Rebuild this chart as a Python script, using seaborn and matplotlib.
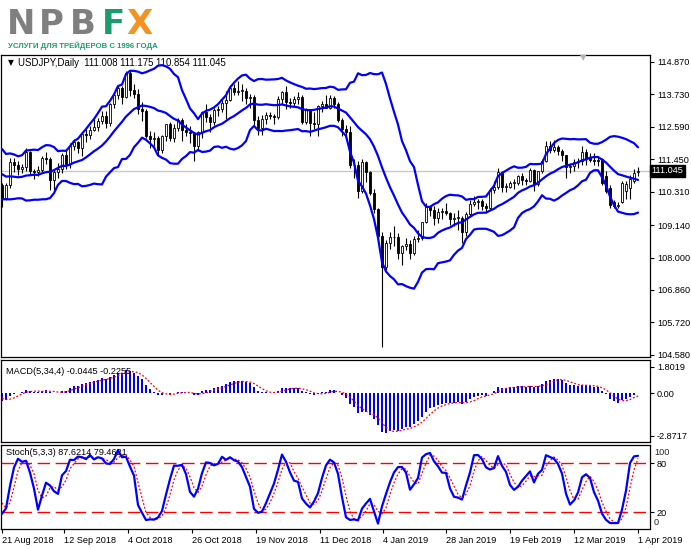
import numpy as np
import pandas as pd
import matplotlib
matplotlib.use("Agg")
import matplotlib.pyplot as plt
import seaborn as sns

sns.set_theme(style="white")
plt.rcParams['font.family'] = ['Liberation Sans', 'DejaVu Sans']

# ---------------- data ----------------
# warm-up history (25 Jun - 20 Aug 2018), not drawn, only feeds the indicators
hist_close = [109.68, 110.05, 110.24, 110.46, 110.76, 110.88, 110.46, 110.49, 110.63, 110.47,
              110.85, 111.00, 112.01, 112.52, 112.37, 112.31, 112.89, 112.87, 112.47, 111.41,
              111.35, 111.20, 110.97, 111.24, 111.05, 111.04, 111.85, 111.70, 111.69, 111.26,
              111.39, 111.38, 110.98, 111.08, 110.87, 110.73, 111.16, 110.70, 110.91, 110.50,
              110.20]
hist_high_last8 = [111.50, 111.15, 111.10, 110.95, 111.25, 111.45, 111.05, 110.95]
hist_low_last8 = [110.90, 110.75, 110.60, 110.11, 110.65, 110.45, 110.60, 110.45]

opens = [110.55, 110.07, 110.53, 111.34, 111.24, 111.10, 111.19, 111.71, 111.03, 111.00,
         111.06, 111.49, 111.46, 110.71, 110.99, 111.11, 111.61, 111.27, 111.92, 112.06,
         111.85, 112.33, 112.30, 112.49, 112.59, 112.80, 112.98, 112.71, 113.39, 113.69,
         113.94, 113.62, 114.48, 113.89, 113.72, 113.22, 113.15, 112.25, 112.15, 112.21,
         111.76, 112.25, 112.67, 112.20, 112.54, 112.83, 112.46, 112.42, 112.38, 111.90,
         112.39, 113.10, 112.92, 112.74, 113.19, 113.20, 113.43, 113.54, 113.96, 113.82,
         113.84, 113.85, 113.61, 113.62, 112.82, 112.54, 112.87, 113.00, 112.96, 112.94,
         113.55, 113.79, 113.46, 113.42, 113.56, 113.62, 112.76, 113.19, 112.71, 112.68,
         113.32, 113.37, 113.26, 113.61, 113.39, 112.82, 112.51, 112.40, 111.25, 111.23,
         110.34, 111.36, 110.99, 110.26, 109.69, 108.75, 107.68, 108.52, 108.71, 108.73,
         108.15, 108.41, 108.48, 108.17, 108.65, 108.68, 109.24, 109.77, 109.65, 109.37,
         109.61, 109.64, 109.55, 109.36, 109.38, 109.40, 108.88, 109.51, 109.88, 109.96,
         109.97, 109.80, 109.73, 110.38, 110.47, 111.01, 110.47, 110.49, 110.61, 110.63,
         110.86, 110.71, 110.68, 111.07, 110.58, 111.02, 111.38, 111.90, 111.77, 111.89,
         111.75, 111.59, 111.17, 111.20, 111.34, 111.39, 111.70, 111.48, 111.41, 111.39,
         111.45, 110.85, 110.45, 109.95, 109.82, 109.95, 110.32, 110.45, 110.70, 111.008]
highs = [110.60, 110.60, 111.48, 111.48, 111.40, 111.29, 111.83, 111.74, 111.12, 111.20,
         111.55, 111.70, 111.52, 111.08, 111.30, 111.65, 111.80, 112.00, 112.17, 112.10,
         112.40, 112.50, 112.60, 112.86, 112.90, 113.15, 113.15, 113.43, 113.70, 114.05,
         114.00, 114.55, 114.55, 114.10, 113.90, 113.45, 113.20, 112.45, 112.40, 112.25,
         112.30, 112.70, 112.75, 112.70, 112.90, 112.90, 112.70, 112.60, 112.40, 112.45,
         113.15, 113.38, 113.05, 113.25, 113.30, 113.55, 113.85, 114.05, 114.10, 114.20,
         114.10, 113.95, 113.75, 113.70, 112.95, 113.00, 113.10, 113.10, 113.05, 113.65,
         113.85, 114.00, 113.60, 113.65, 113.80, 113.70, 113.25, 113.20, 113.10, 113.35,
         113.50, 113.70, 113.70, 113.65, 113.45, 112.90, 112.65, 112.60, 111.45, 111.40,
         111.45, 111.40, 111.05, 110.40, 109.75, 108.90, 108.60, 108.88, 109.10, 108.85,
         108.45, 108.70, 108.60, 108.75, 108.95, 109.25, 109.90, 109.85, 109.80, 109.75,
         109.75, 109.90, 109.60, 109.55, 109.65, 109.45, 109.60, 110.00, 110.15, 110.05,
         110.05, 109.90, 110.45, 110.70, 111.13, 111.05, 110.60, 110.70, 110.75, 110.90,
         110.95, 110.80, 111.15, 111.10, 111.05, 111.45, 112.08, 112.10, 112.14, 111.95,
         111.80, 111.60, 111.30, 111.45, 111.50, 111.90, 111.80, 111.65, 111.65, 111.55,
         111.50, 111.05, 110.55, 110.00, 109.95, 110.70, 110.70, 110.90, 111.10, 111.175]
lows = [109.77, 110.00, 110.45, 111.00, 110.88, 110.95, 111.05, 110.90, 110.75, 110.85,
        110.95, 111.28, 110.38, 110.38, 110.80, 110.95, 111.10, 111.15, 111.78, 111.65,
        111.55, 112.05, 112.15, 112.45, 112.45, 112.70, 112.55, 112.60, 113.25, 113.55,
        113.40, 113.60, 113.65, 113.60, 113.05, 112.80, 112.20, 111.85, 111.90, 111.60,
        111.65, 112.10, 112.10, 112.05, 112.45, 112.10, 112.25, 112.00, 111.38, 111.75,
        112.20, 112.75, 112.40, 112.65, 112.95, 113.10, 112.85, 113.50, 113.70, 113.70,
        113.50, 113.40, 113.25, 112.60, 112.30, 112.30, 112.70, 112.85, 112.70, 112.85,
        113.40, 113.20, 113.25, 113.30, 113.40, 112.70, 112.70, 112.25, 112.50, 112.25,
        113.10, 113.25, 113.20, 113.25, 112.75, 112.25, 112.20, 111.15, 110.80, 110.10,
        110.25, 110.65, 110.20, 109.55, 108.70, 104.87, 107.55, 108.30, 108.40, 107.95,
        107.75, 108.25, 107.95, 108.10, 108.55, 108.60, 109.20, 109.45, 109.15, 109.20,
        109.35, 109.50, 109.15, 109.10, 108.95, 108.50, 108.75, 109.45, 109.80, 109.70,
        109.65, 109.55, 109.70, 110.25, 110.40, 110.30, 110.30, 110.45, 110.40, 110.55,
        110.55, 110.55, 110.65, 110.35, 110.50, 110.95, 111.35, 111.65, 111.70, 111.60,
        111.40, 110.80, 110.95, 111.05, 111.15, 111.25, 111.25, 111.35, 111.25, 111.20,
        110.55, 110.25, 109.72, 109.75, 109.72, 109.90, 110.05, 110.05, 110.60, 110.854]
closes = [110.07, 110.53, 111.34, 111.24, 111.10, 111.19, 111.71, 111.03, 111.00, 111.06,
          111.49, 111.46, 110.71, 110.99, 111.11, 111.61, 111.27, 111.92, 112.06, 111.85,
          112.33, 112.30, 112.49, 112.59, 112.80, 112.98, 112.71, 113.39, 113.69, 113.94,
          113.62, 114.48, 113.89, 113.72, 113.22, 113.15, 112.25, 112.15, 112.21, 111.76,
          112.25, 112.67, 112.20, 112.54, 112.83, 112.46, 112.42, 112.38, 111.90, 112.39,
          113.10, 112.92, 112.74, 113.19, 113.20, 113.43, 113.54, 113.96, 113.82, 113.84,
          113.85, 113.61, 113.62, 112.82, 112.54, 112.87, 113.00, 112.96, 112.94, 113.55,
          113.79, 113.46, 113.42, 113.56, 113.62, 112.76, 113.19, 112.71, 112.68, 113.32,
          113.37, 113.26, 113.61, 113.39, 112.82, 112.51, 112.40, 111.25, 111.23, 110.34,
          111.36, 110.99, 110.26, 109.69, 108.75, 107.68, 108.52, 108.71, 108.73, 108.15,
          108.41, 108.48, 108.17, 108.65, 108.68, 109.24, 109.77, 109.65, 109.37, 109.61,
          109.64, 109.55, 109.36, 109.38, 109.40, 108.88, 109.51, 109.88, 109.96, 109.97,
          109.80, 109.73, 110.38, 110.47, 111.01, 110.47, 110.49, 110.61, 110.63, 110.86,
          110.71, 110.68, 111.07, 110.58, 111.02, 111.38, 111.90, 111.77, 111.89, 111.75,
          111.59, 111.17, 111.20, 111.34, 111.39, 111.70, 111.48, 111.41, 111.39, 111.38,
          110.62, 110.35, 109.85, 109.82, 109.85, 110.62, 110.58, 110.75, 110.95, 111.045]

price_ticks = [114.870, 113.730, 112.590, 111.450, 110.310, 109.140, 108.000, 106.860, 105.720, 104.580]
macd_ticks = [1.8019, 0.0, -2.8717]
macd_tick_labels = ["1.8019", "0.00", "-2.8717"]
stoch_levels = [80, 20]
date_pos = [0, 15.6, 31.6, 47.6, 63.6, 79.6, 95.2, 111, 127, 143, 159]
date_labels = ["21 Aug 2018", "12 Sep 2018", "4 Oct 2018", "26 Oct 2018", "19 Nov 2018",
               "11 Dec 2018", "4 Jan 2019", "28 Jan 2019", "19 Feb 2019", "12 Mar 2019", "1 Apr 2019"]
last_price = 111.045
header = "USDJPY,Daily  111.008 111.175 110.854 111.045"
macd_title = "MACD(5,34,4) -0.0445 -0.2255"
stoch_title = "Stoch(5,3,3) 87.6214 79.4621"
bb_period = 14
bb_dev = 2

# ---------------- indicators ----------------
n = len(closes)
nh = len(hist_close)
idx = np.arange(n)
c_all = pd.Series(hist_close + closes)
pad = nh - len(hist_high_last8)
h_all = pd.Series(hist_close[:pad] + hist_high_last8 + highs)
l_all = pd.Series(hist_close[:pad] + hist_low_last8 + lows)

mid = c_all.rolling(bb_period).mean()
sd = c_all.rolling(bb_period).std(ddof=0)
bb = pd.DataFrame({"x": idx,
                   "mid": mid.values[nh:],
                   "up": (mid + bb_dev * sd).values[nh:],
                   "lo": (mid - bb_dev * sd).values[nh:]})

ema5 = c_all.ewm(span=5, adjust=False).mean()
ema34 = c_all.ewm(span=34, adjust=False).mean()
macd = ema5 - ema34
sig = macd.rolling(4).mean()
macd_v = macd.values[nh:]
sig_v = sig.values[nh:]

hh = h_all.rolling(5).max()
ll = l_all.rolling(5).min()
k = 100 * (c_all - ll).rolling(3).sum() / (hh - ll).rolling(3).sum()
d = k.rolling(3).mean()
st = pd.DataFrame({"x": idx, "k": k.values[nh:], "d": d.values[nh:]})

# ---------------- figure ----------------
W, H = 691, 549
fig = plt.figure(figsize=(W / 100, H / 100), dpi=100)
fig.patch.set_facecolor("white")


def rect(x0, y0, x1, y1):
    return [x0 / W, 1 - y1 / H, (x1 - x0) / W, (y1 - y0) / H]


ax1 = fig.add_axes(rect(1, 55, 650, 357))
ax2 = fig.add_axes(rect(1, 360, 650, 442))
ax3 = fig.add_axes(rect(1, 444.5, 650, 529))
XL = (-0.25, 162.0)
FS = 6.6

for ax in (ax1, ax2, ax3):
    ax.set_facecolor("white")
    ax.set_xlim(*XL)
    for s in ax.spines.values():
        s.set_color("black")
        s.set_linewidth(0.9)
    ax.yaxis.tick_right()
    ax.tick_params(axis="y", direction="out", length=3, width=0.8, pad=2,
                   labelsize=FS, colors="black", right=True, left=False)
    ax.tick_params(axis="x", bottom=False, labelbottom=False)
    ax.grid(False)

# price panel
ax1.set_ylim(104.509, 115.105)
ax1.axhline(last_price, color="#c8c8c8", lw=1.0, zorder=1)
o = np.array(opens); c = np.array(closes)
bot = np.minimum(o, c)
hgt = np.maximum(np.abs(c - o), 0.025)
up = c >= o
ax1.vlines(idx, lows, highs, color="black", lw=0.8, zorder=2)
ax1.bar(idx[up], hgt[up], bottom=bot[up], width=0.72, color="white",
        edgecolor="black", linewidth=0.6, zorder=3)
ax1.bar(idx[~up], hgt[~up], bottom=bot[~up], width=0.72, color="black",
        edgecolor="black", linewidth=0.6, zorder=3)
for col in ("up", "mid", "lo"):
    sns.lineplot(data=bb, x="x", y=col, ax=ax1, color="#0000ff", lw=1.6, zorder=4)
ax1.set_yticks(price_ticks)
ax1.set_yticklabels([f"{v:.3f}" for v in price_ticks])
ax1.set_xlabel(""); ax1.set_ylabel("")
ax1.text(1.002, last_price, f"{last_price:.3f}", transform=ax1.get_yaxis_transform(),
         ha="left", va="center", fontsize=FS, color="white", zorder=10,
         bbox=dict(boxstyle="square,pad=0.18", fc="black", ec="black"))
ax1.text(0.011, 0.974, "\u25bc", transform=ax1.transAxes, fontsize=5.5,
         family=["DejaVu Sans"], ha="left", va="center", color="black")
ax1.text(0.026, 0.974, header, transform=ax1.transAxes, fontsize=6.9,
         ha="left", va="center", color="black")

# MACD panel
ax2.set_ylim(-3.29, 2.25)
ax2.bar(idx, macd_v, width=0.72, color="#0000ff", linewidth=0, zorder=2)
ax2.plot(idx, sig_v, color="#ff0000", lw=0.9, ls=(0, (1.5, 1.5)), zorder=3)
ax2.set_yticks(macd_ticks)
ax2.set_yticklabels(macd_tick_labels)
ax2.text(0.008, 0.86, macd_title, transform=ax2.transAxes, fontsize=FS,
         ha="left", va="center", color="black", zorder=5)

# Stochastic panel
ax3.set_ylim(-0.8, 102.65)
for lv in stoch_levels:
    ax3.axhline(lv, color="#ff0000", lw=1.0, ls=(0, (9, 4)), zorder=1)
sns.lineplot(data=st, x="x", y="d", ax=ax3, color="#ff0000", lw=0.9,
             linestyle=(0, (1.5, 1.5)), zorder=2)
sns.lineplot(data=st, x="x", y="k", ax=ax3, color="#0000ff", lw=1.6, zorder=3)
ax3.set_xlabel(""); ax3.set_ylabel("")
ax3.set_yticks(stoch_levels)
ax3.set_yticklabels([str(v) for v in stoch_levels])
ytr = ax3.get_yaxis_transform()
ax3.text(1.006, 92.5, "100", transform=ytr, fontsize=FS, ha="left", va="center")
ax3.text(1.006, 7.0, "0", transform=ytr, fontsize=FS, ha="left", va="center")
ax3.text(0.008, 0.9, stoch_title, transform=ax3.transAxes, fontsize=FS,
         ha="left", va="center", color="black", zorder=5)
ax3.set_xticks(date_pos)
ax3.set_xticklabels(date_labels, ha="left")
ax3.tick_params(axis="x", bottom=True, labelbottom=True, direction="out",
                length=3, width=0.8, pad=2, labelsize=FS, colors="black")

# MT4 shift marker
fig.text(583 / W, 1 - 58 / H, "\u25bc", fontsize=6, family=["DejaVu Sans"],
         color="#b4b4b4", ha="center", va="center")

# logo
logo_gray = "#7f7f7f"
logo_green = "#1b9c6e"
logo_orange = "#f39322"
for ch, x, col in [("N", 7, logo_gray), ("P", 39, logo_gray), ("B", 70, logo_gray),
                   ("F", 102, logo_green), ("X", 126, logo_orange)]:
    fig.text(x / W, 1 - 33.5 / H, ch, fontsize=24.5, fontweight="bold",
             family=["DejaVu Sans"], color=col, ha="left", va="baseline")
fig.text(8 / W, 1 - 46 / H, "УСЛУГИ ДЛЯ ТРЕЙДЕРОВ С 1996 ГОДА", fontsize=5.6,
         fontweight="bold", family=["Liberation Sans Narrow", "Liberation Sans"],
         color=logo_green, ha="left", va="center")

fig.savefig("out.png", dpi=100, facecolor="white")
